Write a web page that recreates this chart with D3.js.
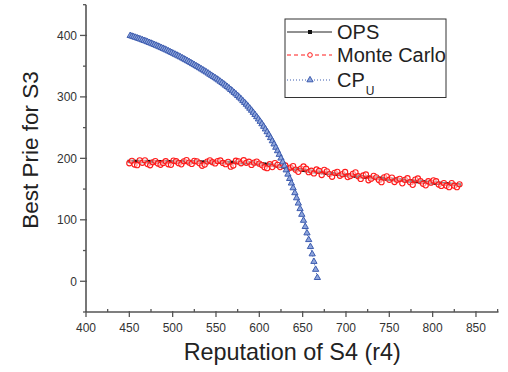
<!DOCTYPE html>
<html><head><meta charset="utf-8">
<script src="https://cdn.jsdelivr.net/npm/d3@7"></script>
<style>body{margin:0;background:#fff}svg{display:block}text{font-family:"Liberation Sans",Arial,sans-serif}</style>
</head><body>
<svg id="c" width="508" height="372"></svg>
<script>
// ---- data ----
const xTicks = [400,450,500,550,600,650,700,750,800,850];
const yTicks = [0,100,200,300,400];
const seriesNames = ["OPS","Monte Carlo","CP"];

// OPS & Monte Carlo share the same sampling grid (r4 = 450..831, step 3)
const simStart = 450, simStep = 3;
const opsValues = [195.0,195.0,194.9,194.9,194.8,194.8,194.8,194.7,194.7,194.6,194.6,194.6,194.5,194.5,194.4,194.4,194.4,194.3,194.3,194.2,194.2,194.2,194.1,194.1,194.0,194.0,194.0,193.9,193.9,193.8,193.8,193.8,193.7,193.7,193.6,193.6,193.5,193.5,193.4,193.4,193.3,193.2,193.1,193.0,192.9,192.7,192.5,192.3,192.0,191.7,191.4,
191.0,190.5,190.0,189.4,188.8,188.2,187.5,186.8,186.1,185.4,184.7,184.0,183.3,182.6,182.0,181.3,180.7,180.1,179.5,178.9,178.4,177.9,177.4,176.9,176.4,175.9,175.4,175.0,174.5,174.1,173.7,173.3,172.9,172.5,172.1,171.7,171.3,170.9,170.5,170.1,169.7,169.3,168.9,168.5,168.1,167.7,167.3,167.0,166.6,166.2,165.8,165.4,165.1,164.7,164.3,164.0,163.6,163.2,162.9,162.5,162.2,161.8,161.5,161.1,160.8,160.4,160.1,159.8,159.4,159.1,158.8,158.4,158.1,157.8,157.5,157.1,156.8];
const mcValues = [192.0,196.0,189.9,188.9,196.8,192.8,196.8,190.7,188.7,193.6,195.6,191.6,189.5,192.5,195.4,190.4,189.4,196.3,195.3,192.2,190.2,195.2,197.1,193.1,191.0,196.0,195.0,191.9,187.9,189.8,194.8,196.8,193.7,191.7,195.6,196.6,192.5,190.5,194.4,186.4,188.3,196.2,195.1,192.0,196.9,192.7,194.5,189.3,193.0,194.7,191.4,
189.0,185.5,184.0,190.4,185.8,192.2,189.5,185.8,191.1,188.4,182.7,185.0,187.3,181.6,178.0,183.3,186.7,183.1,177.5,179.9,175.4,181.9,179.4,172.9,181.4,178.9,174.4,170.0,176.5,178.1,171.7,174.3,177.9,169.5,171.1,174.7,177.3,170.9,166.5,172.1,173.7,164.3,166.9,171.5,169.1,164.7,161.3,169.0,170.6,165.2,168.8,161.4,165.1,166.7,159.3,165.0,167.6,161.2,156.9,165.5,167.2,162.8,158.5,156.1,162.8,160.4,164.1,162.8,157.4,155.1,159.8,155.4,153.1,159.8,155.5,153.1,157.8];

// CP_U sampled at r4 = 451..667, step 2
const cpStart = 451, cpStep = 2;
const cpValues = [399.6,398.6,397.7,396.7,395.8,394.8,393.7,392.7,391.6,390.6,389.5,388.3,387.2,386.0,384.9,383.7,382.4,381.2,379.9,378.7,377.4,376.0,374.7,373.3,372.0,
370.6,369.1,367.7,366.2,364.8,363.3,361.7,360.2,358.6,357.1,355.5,353.8,352.2,350.5,348.9,347.2,345.4,343.7,341.9,340.2,338.4,336.5,334.7,332.8,331.0,
329.0,327.1,325.1,323.0,320.9,318.7,316.5,314.2,311.8,309.4,307.0,304.5,
301.9,299.2,296.5,293.6,290.7,287.7,284.6,281.3,278.0,274.6,271.1,267.5,263.8,
260.0,256.0,251.8,247.5,243.0,238.3,233.4,228.3,223.1,217.7,
212.1,206.2,200.2,194.0,187.5,180.9,174.0,
166.9,159.5,151.8,143.8,135.5,
126.9,117.9,108.6,98.9,88.8,
78.4,67.5,56.2,44.3,32.0,19.1,5.8];

const simX = opsValues.map((_, i) => simStart + i * simStep);
const cpX = cpValues.map((_, i) => cpStart + i * cpStep);

// ---- chart ----
const svg = d3.select("#c");
const L = 86, R = 498.5, T = 4.7, B = 312;
const x = d3.scaleLinear().domain([400, 876]).range([L, R]);
const y = d3.scaleLinear().domain([-50, 450]).range([B, T]);
const axisColor = "#555";
const blue = "#3d5caf", red = "#ff1a1a";

// series
const ops = simX.map((v, i) => [v, opsValues[i]]);
const mc = simX.map((v, i) => [v, mcValues[i]]);
const cp = cpX.map((v, i) => [v, cpValues[i]]);
const line = d3.line().x(d => x(d[0])).y(d => y(d[1]));

const g = svg.append("g");
g.append("path").attr("d", line(ops)).attr("fill", "none").attr("stroke", "#111").attr("stroke-width", 2.4);
g.selectAll("rect.ops").data(ops).enter().append("rect")
  .attr("x", d => x(d[0]) - 1.7).attr("y", d => y(d[1]) - 1.7)
  .attr("width", 3.4).attr("height", 3.4).attr("fill", "#111");

g.append("path").attr("d", line(mc)).attr("fill", "none").attr("stroke", red).attr("stroke-width", 1).attr("stroke-dasharray", "4,3");
g.selectAll("circle.mc").data(mc).enter().append("circle")
  .attr("cx", d => x(d[0])).attr("cy", d => y(d[1])).attr("r", 2.6)
  .attr("fill", "#fff").attr("fill-opacity", 0.5).attr("stroke", red).attr("stroke-width", 1.1);

g.append("path").attr("d", line(cp)).attr("fill", "none").attr("stroke", blue).attr("stroke-width", 1).attr("stroke-dasharray", "1,2");
const tri = d3.symbol().type(d3.symbolTriangle).size(17);
g.selectAll("path.cp").data(cp).enter().append("path")
  .attr("d", tri).attr("transform", d => `translate(${x(d[0])},${y(d[1])})`)
  .attr("fill", "#8fa6dc").attr("stroke", blue).attr("stroke-width", 1);

// axes
const xAxis = svg.append("g").attr("transform", `translate(0,${B})`);
xAxis.append("line").attr("x1", L).attr("x2", R).attr("stroke", axisColor).attr("stroke-width", 1.6);
const xMinor = d3.range(425, 876, 50);
xAxis.selectAll("line.mj").data(xTicks).enter().append("line")
  .attr("x1", d => x(d)).attr("x2", d => x(d)).attr("y1", -1).attr("y2", 5).attr("stroke", axisColor).attr("stroke-width", 1.3);
xAxis.selectAll("line.mn").data(xMinor).enter().append("line")
  .attr("x1", d => x(d)).attr("x2", d => x(d)).attr("y1", -3).attr("y2", 0).attr("stroke", axisColor).attr("stroke-width", 1.3);
xAxis.selectAll("text").data(xTicks).enter().append("text")
  .attr("x", d => x(d)).attr("y", 20).attr("text-anchor", "middle")
  .attr("font-size", 12).attr("fill", "#333").text(d => d);

const yAxis = svg.append("g").attr("transform", `translate(${L},0)`);
yAxis.append("line").attr("y1", T).attr("y2", B).attr("stroke", axisColor).attr("stroke-width", 1.6);
const yMinor = d3.range(-50, 451, 100);
yAxis.selectAll("line.mj").data(yTicks).enter().append("line")
  .attr("y1", d => y(d)).attr("y2", d => y(d)).attr("x1", -6).attr("x2", 1).attr("stroke", axisColor).attr("stroke-width", 1.3);
yAxis.selectAll("line.mn").data(yMinor).enter().append("line")
  .attr("y1", d => y(d)).attr("y2", d => y(d)).attr("x1", -3).attr("x2", 0).attr("stroke", axisColor).attr("stroke-width", 1.3);
yAxis.selectAll("text").data(yTicks).enter().append("text")
  .attr("x", -9).attr("y", d => y(d) + 4.3).attr("text-anchor", "end")
  .attr("font-size", 12).attr("fill", "#333").text(d => d);

// axis titles
svg.append("text").attr("x", (L + R) / 2).attr("y", 360).attr("text-anchor", "middle")
  .attr("font-size", 23.4).attr("fill", "#222").text("Reputation of S4 (r4)");
svg.append("text").attr("transform", `translate(37.5,150) rotate(-90)`).attr("text-anchor", "middle")
  .attr("font-size", 22.5).attr("fill", "#222").text("Best Prie for S3");

// legend
const lg = svg.append("g");
lg.append("rect").attr("x", 285).attr("y", 19).attr("width", 161).attr("height", 78.5)
  .attr("fill", "#fff").attr("stroke", "#333").attr("stroke-width", 1);
const rows = [32, 55, 80];
const lx1 = 287, lx2 = 332, lm = 310;
// OPS
lg.append("line").attr("x1", lx1).attr("x2", lx2).attr("y1", rows[0]).attr("y2", rows[0]).attr("stroke", "#222").attr("stroke-width", 1);
lg.append("rect").attr("x", lm - 2).attr("y", rows[0] - 2).attr("width", 4).attr("height", 4).attr("fill", "#111");
// MC
lg.append("line").attr("x1", lx1).attr("x2", lx2).attr("y1", rows[1]).attr("y2", rows[1]).attr("stroke", red).attr("stroke-width", 1).attr("stroke-dasharray", "4,3");
lg.append("circle").attr("cx", lm).attr("cy", rows[1]).attr("r", 2.3).attr("fill", "#fff").attr("stroke", red).attr("stroke-width", 1);
// CP
lg.append("line").attr("x1", lx1).attr("x2", lx2).attr("y1", rows[2]).attr("y2", rows[2]).attr("stroke", blue).attr("stroke-width", 1).attr("stroke-dasharray", "1,2");
lg.append("path").attr("d", tri).attr("transform", `translate(${lm},${rows[2]})`).attr("fill", "#8fa6dc").attr("stroke", blue).attr("stroke-width", 1);

lg.append("text").attr("x", 337).attr("y", rows[0] + 7).attr("font-size", 20).attr("fill", "#222").text(seriesNames[0]);
lg.append("text").attr("x", 337).attr("y", rows[1] + 7).attr("font-size", 20).attr("fill", "#222").text(seriesNames[1]);
const cpt = lg.append("text").attr("x", 337).attr("y", rows[2] + 7).attr("font-size", 20).attr("fill", "#222");
cpt.append("tspan").text(seriesNames[2]);
cpt.append("tspan").attr("font-size", 12).attr("dy", 8).attr("dx", 1).text("U");
</script>
</body></html>
